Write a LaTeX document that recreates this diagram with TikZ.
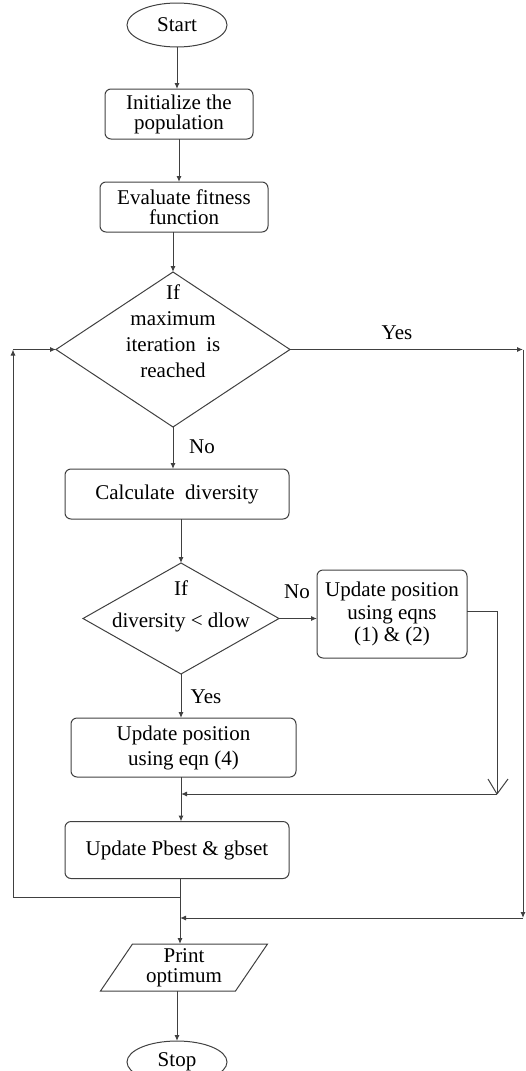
\documentclass[tikz,border=0pt]{standalone}
\usepackage{fontspec}
\setmainfont{Liberation Serif}
\usetikzlibrary{arrows.meta,shapes.geometric,calc}
\begin{document}
\begin{tikzpicture}[x=1pt,y=-1pt,
  every node/.style={font=\fontsize{21}{20}\selectfont, text=black},
  line/.style={draw=black!75, line width=1pt},
  arr/.style={line, -{Latex[length=6pt,width=5pt]}},
  box/.style={line, rectangle, rounded corners=6pt, align=center, inner sep=0pt, outer sep=0pt},
  term/.style={line, ellipse, minimum width=100, minimum height=44, inner sep=0pt, outer sep=0pt},
  dia/.style={line, diamond, inner sep=0pt, outer sep=0pt},
  txt/.style={align=center, inner sep=0pt, outer sep=0pt}]
\useasboundingbox (0,0) rectangle (526,1071);
\clip (0,0) rectangle (526,1071);

% nodes
\node[term] (start) at (177,25) {Start};
\node[box, minimum width=148, minimum height=50] (init) at (179,114) {Initialize the\\population};
\node[box, minimum width=168, minimum height=50] (eval) at (184,207) {Evaluate fitness\\function};
\node[dia, minimum width=234, minimum height=155] (d1) at (173,349.5) {};
\node[txt] (d1t) at (173,331) {If\\[6pt]maximum\\[6pt]iteration\ \ is\\[6pt]reached};
\node[box, minimum width=224, minimum height=50] (calc) at (177,494) {Calculate\ \ diversity};
\node[dia, minimum width=196, minimum height=111] (d2) at (181,618.5) {};
\node[txt] (d2t) at (181,606) {If\\[12pt]diversity < dlow};
\node[box, minimum width=150, minimum height=88] (upd) at (392,614) {Update position\\[3pt]using eqns\\[2pt](1) \& (2)};
\node[box, minimum width=225, minimum height=59] (eqn) at (183.5,747.5) {Update position\\[5pt]using eqn (4)};
\node[box, minimum width=224, minimum height=57] (pbest) at (177,850) {Update Pbest \& gbset};
\node[txt, minimum width=135, minimum height=47] (print) at (184,967.5) {Print\\optimum};
\draw[line] ([xshift=16pt]print.north west) -- ([xshift=16pt]print.north east)
  -- ([xshift=-16pt]print.south east) -- ([xshift=-16pt]print.south west) -- cycle;
\node[term, minimum height=42] (stop) at (177,1062) {Stop};

% labels
\node[txt] (lyes1) at (397,333) {Yes};
\node[txt] (lno1) at (202,447) {No};
\node[txt] (lno2) at (297,592) {No};
\node[txt] (lyes2) at (206,697) {Yes};

% helper coordinates
\coordinate (lc) at (13,349.5);
\coordinate (rc) at (523,349.5);
\coordinate (j1) at (181,794);
\coordinate (j2) at (180,897);
\coordinate (j3) at (180,918);
\coordinate (rv) at (497,794);

% connectors
\draw[arr] (start.south) -- (start.south |- init.north);
\draw[arr] (init.south) -- (init.south |- eval.north);
\draw[arr] (d1.north |- eval.south) -- (d1.north);
\draw[arr] (d1.south) -- (d1.south |- calc.north);
\draw[arr] (d1.east) -- (rc);
\draw[arr] (rc) -- (rc |- j3);
\draw[arr] (rc |- j3) -- (j3);
\draw[arr] (d2.north |- calc.south) -- (d2.north);
\draw[arr] (d2.east) -- (d2.east -| upd.west);
\draw[arr] (d2.south) -- (d2.south |- eqn.north);
\draw[line] ([yshift=3pt]upd.east) -| (rv);
\draw[line] (rv) -- ++(-9,-15);
\draw[line] (rv) -- ++(11,-15);
\draw[arr] (rv) -- (j1);
\draw[line] (d2.south |- eqn.south) -- (j1);
\draw[arr] (j1) -- (j1 |- pbest.north);
\draw[line] (pbest.south -| j2) -- (j3);
\draw[arr] (j3) -- (j3 |- print.north);
\draw[line] (j2) -- (j2 -| lc);
\draw[arr] (j2 -| lc) -- (lc);
\draw[arr] (lc) -- (d1.west);
\draw[arr] (stop.north |- print.south) -- (stop.north);
\end{tikzpicture}
\end{document}
